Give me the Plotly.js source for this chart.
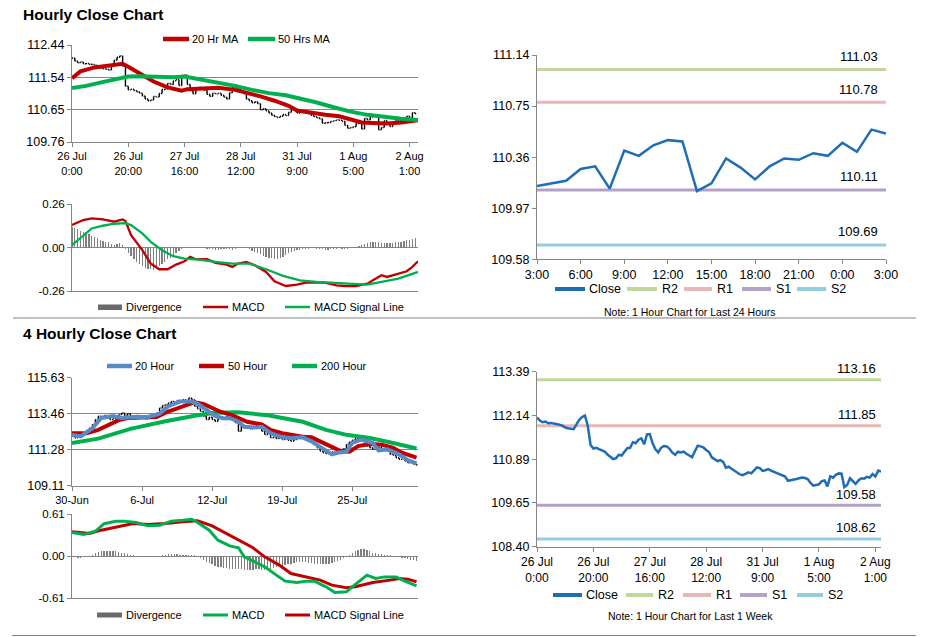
<!DOCTYPE html>
<html><head><meta charset="utf-8">
<script src="https://cdn.plot.ly/plotly-3.0.1.min.js"></script>
<style>html,body{margin:0;padding:0;background:#fff}#chart{width:928px;height:638px}</style>
</head><body><div id="chart"></div><script>
// ---------------- DATA ----------------
// Hourly close, 26 Jul 0:00 .. 2 Aug 3:00 (last 25 values = last 24 hours)
const closeHourly = [112.08,112.00,111.95,111.97,111.92,111.93,111.91,111.90,111.88,111.85,
 111.80,111.78,111.77,111.75,111.89,112.02,112.10,112.14,111.85,111.30,
 111.20,111.22,111.18,111.15,111.11,111.03,110.95,110.90,110.92,111.02,
 111.00,111.10,111.21,111.22,111.38,111.35,111.45,111.49,111.32,111.60,
 111.61,111.35,111.18,111.09,111.22,111.27,111.26,111.19,111.08,111.02,
 111.11,111.09,111.11,111.05,111.00,110.95,111.12,111.28,111.26,111.23,
 111.16,111.10,110.95,110.90,110.84,110.87,110.82,110.65,110.68,110.62,
 110.56,110.50,110.46,110.44,110.47,110.52,110.49,110.58,110.66,110.64,
 110.56,110.58,110.61,110.57,110.54,110.50,110.46,110.43,110.40,110.28,
 110.29,110.30,110.33,110.35,110.37,110.36,110.33,110.22,
 110.14,110.16,110.18,110.27,110.29,110.12,110.41,110.37,110.45,110.49,
 110.48,110.10,110.16,110.35,110.28,110.19,110.29,110.35,110.34,110.39,
 110.37,110.47,110.40,110.57,110.54];
const last24Start = 98;

const ma20HourX = [0,3,8,12,18,20,22,26,29,34,39,41,46,52,58,62,67,72,77,80,85,90,95,99,103,109,112,117,123];
const ma20HourY = [111.52,111.71,111.82,111.86,111.92,111.84,111.75,111.59,111.43,111.27,111.18,111.22,111.25,111.26,111.20,111.13,111.02,110.90,110.76,110.63,110.56,110.51,110.47,110.38,110.30,110.28,110.27,110.30,110.36];
const ma50HourX = [0,5,10,15,20,24,30,36,40,46,52,58,64,70,76,81,87,93,99,105,111,117,123];
const ma50HourY = [111.25,111.31,111.40,111.49,111.57,111.58,111.56,111.55,111.57,111.49,111.40,111.31,111.20,111.11,111.05,110.97,110.85,110.72,110.60,110.51,110.45,110.40,110.37];

const divHourly = [0.12,0.115,0.11,0.10,0.095,0.09,0.08,0.07,0.06,0.055,
 0.045,0.04,0.035,0.03,0.02,0.015,0.02,0.025,0.015,-0.01,
 -0.03,-0.05,-0.07,-0.085,-0.10,-0.11,-0.12,-0.13,-0.13,-0.135,
 -0.12,-0.11,-0.10,-0.085,-0.07,-0.06,-0.045,-0.03,-0.02,-0.01,
 -0.005,0.005,0.005,0.003,0.0,-0.003,-0.005,-0.005,-0.008,-0.01,
 -0.01,-0.012,-0.012,-0.01,-0.008,-0.006,-0.01,-0.012,-0.008,-0.005,
 0.0,0.0,-0.005,-0.01,-0.02,-0.025,-0.035,-0.04,-0.05,-0.055,
 -0.06,-0.065,-0.07,-0.07,-0.065,-0.055,-0.045,-0.035,-0.025,-0.02,
 -0.015,-0.012,-0.01,-0.008,-0.006,-0.005,-0.005,-0.006,-0.008,-0.01,
 -0.012,-0.012,-0.01,-0.008,-0.006,-0.005,-0.006,-0.008,-0.006,-0.004,
 -0.002,0.002,0.008,0.015,0.02,0.028,0.032,0.035,0.03,0.03,
 0.028,0.025,0.025,0.028,0.028,0.03,0.03,0.035,0.04,0.042,
 0.045,0.05,0.055];
const macdHourX = [0,4,7,11,15,18,19,21,25,28,31,34,37,40,42,44,48,51,55,57,59,62,65,69,72,76,80,83,87,90,94,97,101,105,107,110,112,115,119,121,123];
const macdHourY = [0.135,0.164,0.174,0.168,0.154,0.168,0.158,0.074,-0.016,-0.096,-0.13,-0.13,-0.102,-0.082,-0.056,-0.07,-0.07,-0.092,-0.102,-0.116,-0.096,-0.086,-0.106,-0.146,-0.202,-0.23,-0.222,-0.21,-0.21,-0.21,-0.226,-0.23,-0.23,-0.216,-0.196,-0.166,-0.176,-0.162,-0.142,-0.116,-0.082];
const sigHourX = [0,4,7,11,15,19,21,25,28,32,36,40,45,51,57,63,69,75,81,87,93,99,105,111,116,123];
const sigHourY = [0.014,0.074,0.114,0.13,0.142,0.146,0.134,0.084,0.034,-0.016,-0.052,-0.066,-0.072,-0.086,-0.096,-0.096,-0.13,-0.17,-0.196,-0.206,-0.212,-0.22,-0.222,-0.202,-0.186,-0.146];

// 4-hourly close, 30 Jun .. 2 Aug
const close4h = [112.2,112.0,112.05,112.2,112.3,112.45,112.6,112.8,113.1,113.3,
 113.25,113.35,113.2,113.1,113.15,113.3,113.4,113.5,113.35,113.45,
 113.3,113.25,113.35,113.2,113.3,113.15,113.3,113.25,113.4,113.5,
 113.8,113.95,114.0,114.1,114.2,114.15,114.25,114.2,114.3,114.25,
 114.4,114.3,113.9,113.75,113.6,113.3,113.1,113.25,113.1,113.0,
 113.2,113.15,113.2,113.3,113.25,113.1,112.9,112.4,112.75,112.6,
 112.7,112.55,112.6,112.75,112.65,112.4,112.2,112.3,112.0,112.05,
 111.95,112.0,111.9,111.95,111.85,111.8,111.9,112.05,112.1,111.95,
 111.85,111.9,111.75,111.6,111.4,111.2,111.1,111.05,111.1,111.15,
 111.1,111.25,111.3,111.35,111.6,111.75,111.85,111.95,112.0,111.85,
 111.9,111.5,111.4,111.3,111.35,111.45,111.3,111.35,111.2,111.0,
 110.95,110.8,110.7,110.75,110.6,110.5,110.55,110.4,110.35];
const ma20_4hX = [0,3,7,10,14,17,21,26,30,33,37,41,43,46,49,52,54,57,59,63,65,68,72,75,79,82,86,89,91,94,96,99,103,105,108,112,115,118];
const ma20_4hY = [112.18,112.09,112.58,113.20,113.32,113.20,113.26,113.26,113.46,113.91,114.19,114.19,114.05,113.66,113.32,113.17,113.2,112.97,112.67,112.62,112.67,112.28,112.03,111.99,112.03,111.79,111.30,111.0,111.1,111.16,111.69,111.89,111.69,111.24,111.3,111.0,110.65,110.46];
const ma50_4hX = [0,5,9,13,16,19,24,29,32,37,42,45,48,51,55,58,60,65,68,72,75,79,82,86,89,92,95,98,102,106,110,113,118];
const ma50_4hY = [112.28,112.28,112.48,112.81,113.07,113.2,113.22,113.26,113.52,113.85,114.15,114.05,113.79,113.56,113.36,113.13,112.97,112.81,112.48,112.28,112.18,112.07,112.03,111.69,111.40,111.2,111.16,111.50,111.63,111.59,111.40,111.10,110.81];
const ma200_4hX = [0,9,20,32,43,49,57,67,79,87,94,102,110,118];
const ma200_4hY = [111.69,111.95,112.54,113.0,113.36,113.52,113.54,113.36,112.97,112.48,112.18,111.99,111.69,111.36];

const div4h = [-0.01,-0.015,-0.02,-0.02,-0.015,-0.01,0.0,0.02,0.04,0.06,
 0.07,0.08,0.08,0.08,0.075,0.07,0.06,0.05,0.04,0.03,
 0.02,0.01,0.0,-0.005,-0.01,-0.012,-0.015,-0.012,-0.01,-0.005,
 0.0,0.01,0.02,0.025,0.03,0.03,0.025,0.02,0.02,0.015,
 0.015,0.015,0.01,0.0,-0.02,-0.05,-0.08,-0.1,-0.12,-0.14,
 -0.155,-0.16,-0.17,-0.175,-0.18,-0.18,-0.185,-0.19,-0.19,-0.195,
 -0.2,-0.2,-0.195,-0.19,-0.19,-0.195,-0.2,-0.2,-0.19,-0.17,
 -0.16,-0.15,-0.14,-0.13,-0.12,-0.11,-0.1,-0.09,-0.09,-0.09,
 -0.09,-0.1,-0.1,-0.11,-0.11,-0.12,-0.12,-0.12,-0.11,-0.1,
 -0.09,-0.07,-0.05,-0.03,-0.01,0.02,0.05,0.07,0.09,0.1,
 0.1,0.09,0.07,0.05,0.04,0.03,0.025,0.02,0.015,0.01,
 0.005,0.0,-0.01,-0.02,-0.03,-0.04,-0.05,-0.06,-0.07];
const macd4hX = [0,4,8,11,15,18,22,26,30,34,38,41,43,47,50,54,57,59,63,66,70,73,77,80,83,87,90,94,96,101,104,107,111,114,118];
const macd4hY = [0.342,0.313,0.36,0.47,0.506,0.506,0.487,0.439,0.448,0.506,0.52,0.535,0.487,0.376,0.231,0.149,0.121,-0.01,-0.092,-0.154,-0.275,-0.362,-0.381,-0.362,-0.362,-0.444,-0.526,-0.516,-0.444,-0.275,-0.323,-0.3,-0.3,-0.362,-0.43];
const sig4hX = [0,6,10,15,21,26,32,38,43,48,53,57,62,66,71,75,80,85,89,94,97,103,109,112,115,118];
const sig4hY = [0.352,0.328,0.376,0.424,0.472,0.458,0.472,0.497,0.511,0.439,0.328,0.231,0.121,-0.01,-0.13,-0.251,-0.3,-0.347,-0.42,-0.458,-0.444,-0.381,-0.347,-0.323,-0.333,-0.371];

// Support / resistance levels
const levelNames = ['R2','R1','S1','S2'];
const levelsDay = [111.03,110.78,110.11,109.69];
const levelsWeek = [113.16,111.85,109.58,108.62];

// Tick labels
const hourTickIdx = [0,20,40,60,80,100,120];
const hourTickText = ['26 Jul<br>0:00','26 Jul<br>20:00','27 Jul<br>16:00','28 Jul<br>12:00','31 Jul<br>9:00','1 Aug<br>5:00','2 Aug<br>1:00'];
const dayTickIdx = [0,3,6,9,12,15,18,21,24];
const dayTickText = ['3:00','6:00','9:00','12:00','15:00','18:00','21:00','0:00','3:00'];
const fourTickIdx = [0,24,48,72,96];
const fourTickText = ['30-Jun','6-Jul','12-Jul','19-Jul','25-Jul'];
const priceTicksHour = [109.76,110.65,111.54,112.44];
const macdTicksHour = [-0.26,0,0.26];
const priceTicksDay = [109.58,109.97,110.36,110.75,111.14];
const priceTicks4h = [109.11,111.28,113.46,115.63];
const macdTicks4h = [-0.61,0,0.61];
const priceTicksWeek = [108.40,109.65,110.89,112.14,113.39];

// ---------------- STYLE ----------------
const W = 928, H = 638;
const px = x => x / W, py = y => 1 - y / H;
const FONT = 'Liberation Sans, Arial, sans-serif';
const RED = '#c00000', GREEN = '#00b050', BLUE20 = '#5a8ac6', CLOSE = '#1f6db4', GRAYBAR = '#7f7f7f', AXIS = '#868686';
const levelColors = ['#c3d69b','#e6b9b8','#b3a2c7','#93cddd'];
const fmt = v => (v < 0 ? '-' : '') + Math.abs(v).toFixed(2);

const idx = arr => arr.map((_, i) => i);
function ohlcFrom(close, xa, ya) {
  const open = close.map((v, i) => i ? close[i - 1] : v);
  return {type:'ohlc', x: idx(close), open, close,
    high: close.map((v, i) => Math.max(v, open[i])), low: close.map((v, i) => Math.min(v, open[i])),
    xaxis: xa, yaxis: ya, increasing:{line:{color:'#000', width:1.4}}, decreasing:{line:{color:'#000', width:1.4}},
    tickwidth: 0.35, showlegend:false, hoverinfo:'skip'};
}
const line = (x, y, xa, ya, color, width) => ({type:'scatter', mode:'lines', x, y, xaxis:xa, yaxis:ya,
  line:{color, width}, showlegend:false, hoverinfo:'skip'});
const bars = (y, xa, ya) => ({type:'bar', x: idx(y), y, xaxis:xa, yaxis:ya, width:0.45,
  marker:{color:GRAYBAR, line:{width:0}}, showlegend:false, hoverinfo:'skip'});

const close24 = closeHourly.slice(last24Start);
const traces = [
  ohlcFrom(closeHourly, 'x', 'y'),
  line(ma20HourX, ma20HourY, 'x', 'y', RED, 4),
  line(ma50HourX, ma50HourY, 'x', 'y', GREEN, 4),
  bars(divHourly, 'x2', 'y2'),
  line(macdHourX, macdHourY, 'x2', 'y2', RED, 2.3),
  line(sigHourX, sigHourY, 'x2', 'y2', GREEN, 2.3),
];
levelsDay.forEach((v, i) => traces.push(line([0, close24.length - 1], [v, v], 'x3', 'y3', levelColors[i], 3)));
traces.push(line(idx(close24), close24, 'x3', 'y3', CLOSE, 2.5));
traces.push(ohlcFrom(close4h, 'x4', 'y4'));
traces.push(line(ma200_4hX, ma200_4hY, 'x4', 'y4', GREEN, 4));
traces.push(line(ma50_4hX, ma50_4hY, 'x4', 'y4', RED, 4));
traces.push(line(ma20_4hX, ma20_4hY, 'x4', 'y4', BLUE20, 4));
traces.push(bars(div4h, 'x5', 'y5'));
traces.push(line(sig4hX, sig4hY, 'x5', 'y5', RED, 3));
traces.push(line(macd4hX, macd4hY, 'x5', 'y5', GREEN, 3));
levelsWeek.forEach((v, i) => traces.push(line([0, closeHourly.length - 1], [v, v], 'x6', 'y6', levelColors[i], 3)));
traces.push(line(idx(closeHourly), closeHourly, 'x6', 'y6', CLOSE, 2.5));

const base = {showline:true, linecolor:AXIS, linewidth:1, ticks:'outside', ticklen:4, tickcolor:AXIS, tickwidth:1,
  zeroline:false, showgrid:false, fixedrange:true, tickmode:'array', gridcolor:AXIS, gridwidth:1};
const yax = (top, bottom, anchor, range, ticks, size, grid) => Object.assign({}, base, {
  domain:[py(bottom), py(top)], anchor, range, tickvals:ticks, ticktext:ticks.map(fmt),
  tickfont:{size, color:'#000'}, showgrid:grid});
const xax = (left, right, anchor, range, tv, tt, size) => Object.assign({}, base, {
  domain:[px(left), px(right)], anchor, range, tickvals:tv || [], ticktext:tt || [],
  showticklabels: !!tv, ticks: tv ? 'outside' : '', tickfont:{size, color:'#000'}, rangeslider:{visible:false}});

const shapes = [], annotations = [];
const text = (x, y, t, size, opts) => annotations.push(Object.assign({xref:'paper', yref:'paper', x:px(x), y:py(y),
  text:t, showarrow:false, xanchor:'left', yanchor:'middle', font:{size, color:'#000', family:FONT}}, opts || {}));
const seg = (x0, x1, y, color, width) => shapes.push({type:'line', xref:'paper', yref:'paper',
  x0:px(x0), x1:px(x1), y0:py(y), y1:py(y), line:{color, width}});
const box = (x0, x1, y0, y1, color) => shapes.push({type:'rect', xref:'paper', yref:'paper',
  x0:px(x0), x1:px(x1), y0:py(y1), y1:py(y0), fillcolor:color, line:{width:0}});

// titles and separators
text(21, 14, '<b>Hourly Close Chart</b>', 15.5);
text(21, 333, '<b>4 Hourly Close Chart</b>', 15.5);
seg(13, 916, 318, '#808080', 1);
seg(12, 916, 635.5, '#808080', 1);

// legends (left)
seg(163, 189, 39, RED, 4.5); text(190, 39, '20 Hr MA', 11);
seg(248, 275, 39, GREEN, 4.5); text(276, 39, '50 Hrs MA', 11);
box(98, 122, 304.5, 310, '#6a6a6a'); text(124, 307, 'Divergence', 11);
seg(203, 228, 307, RED, 2.5); text(230, 307, 'MACD', 11);
seg(285, 310, 307, GREEN, 2.5); text(312, 307, 'MACD Signal Line', 11);

seg(107, 132, 366, BLUE20, 4.5); text(133, 366, '20 Hour', 11);
seg(199, 224, 366, RED, 4.5); text(226, 366, '50 Hour', 11);
seg(292, 317, 366, GREEN, 4.5); text(319, 366, '200 Hour', 11);
box(97, 122, 612.5, 617.5, '#6a6a6a'); text(124, 615, 'Divergence', 11);
seg(203, 228, 615, GREEN, 3); text(230, 615, 'MACD', 11);
seg(285, 310, 615, RED, 3); text(312, 615, 'MACD Signal Line', 11);

// legends (right)
function rightLegend(y, xs, size) {
  seg(xs[0][0], xs[0][1], y, CLOSE, 4); text(xs[0][1] + 2, y, 'Close', size);
  levelNames.forEach((n, i) => { seg(xs[i+1][0], xs[i+1][1], y, levelColors[i], 4); text(xs[i+1][1] + 3, y, n, size); });
}
rightLegend(289, [[555,585],[627,657],[684,712],[742,771],[797,826]], 12.5);
rightLegend(595, [[553,582],[626,653],[683,711],[740,767],[797,823]], 12.5);
text(690, 311.5, 'Note: 1 Hour Chart for Last 24 Hours', 10.5, {xanchor:'center'});
text(690, 615.5, 'Note: 1 Hour Chart for Last 1 Week', 10.5, {xanchor:'center'});

// level value labels
levelsDay.forEach(v => annotations.push({xref:'x3', yref:'y3', x:close24.length - 1, y:v, text:v.toFixed(2),
  showarrow:false, xanchor:'right', yanchor:'middle', yshift:13, xshift:-6, font:{size:13, color:'#000', family:FONT}}));
levelsWeek.forEach(v => annotations.push({xref:'x6', yref:'y6', x:closeHourly.length - 1, y:v, text:v.toFixed(2),
  showarrow:false, xanchor:'right', yanchor:'middle', yshift:11, xshift:-3, font:{size:13, color:'#000', family:FONT}}));

const layout = {
  width:W, height:H, autosize:false, margin:{l:0, r:0, t:0, b:0}, paper_bgcolor:'#fff', plot_bgcolor:'rgba(0,0,0,0)',
  font:{family:FONT, color:'#000'}, showlegend:false, hovermode:false, bargap:0,
  xaxis: xax(72, 418, 'y', [0, 123], hourTickIdx, hourTickText, 11),
  yaxis: yax(45, 142, 'x', [109.76, 112.44], priceTicksHour, 12.5, true),
  xaxis2: xax(72, 418, 'y2', [0, 123]),
  yaxis2: yax(204, 291, 'x2', [-0.26, 0.26], macdTicksHour, 11.5, true),
  xaxis3: xax(537, 886, 'y3', [0, 24], dayTickIdx, dayTickText, 12.5),
  yaxis3: yax(55, 259.3, 'x3', [109.58, 111.14], priceTicksDay, 12.5, false),
  xaxis4: xax(72, 418, 'y4', [0, 118.5], fourTickIdx, fourTickText, 11),
  yaxis4: yax(377.7, 485.7, 'x4', [109.11, 115.63], priceTicks4h, 12.5, true),
  xaxis5: xax(72, 418, 'y5', [0, 118.5]),
  yaxis5: yax(514, 598.3, 'x5', [-0.61, 0.61], macdTicks4h, 11.5, true),
  xaxis6: xax(537, 881, 'y6', [0, 122], hourTickIdx, hourTickText, 12),
  yaxis6: yax(371.7, 546.7, 'x6', [108.40, 113.39], priceTicksWeek, 12.5, false),
  shapes, annotations
};
Plotly.newPlot('chart', traces, layout, {staticPlot:true, displayModeBar:false});
</script></body></html>
